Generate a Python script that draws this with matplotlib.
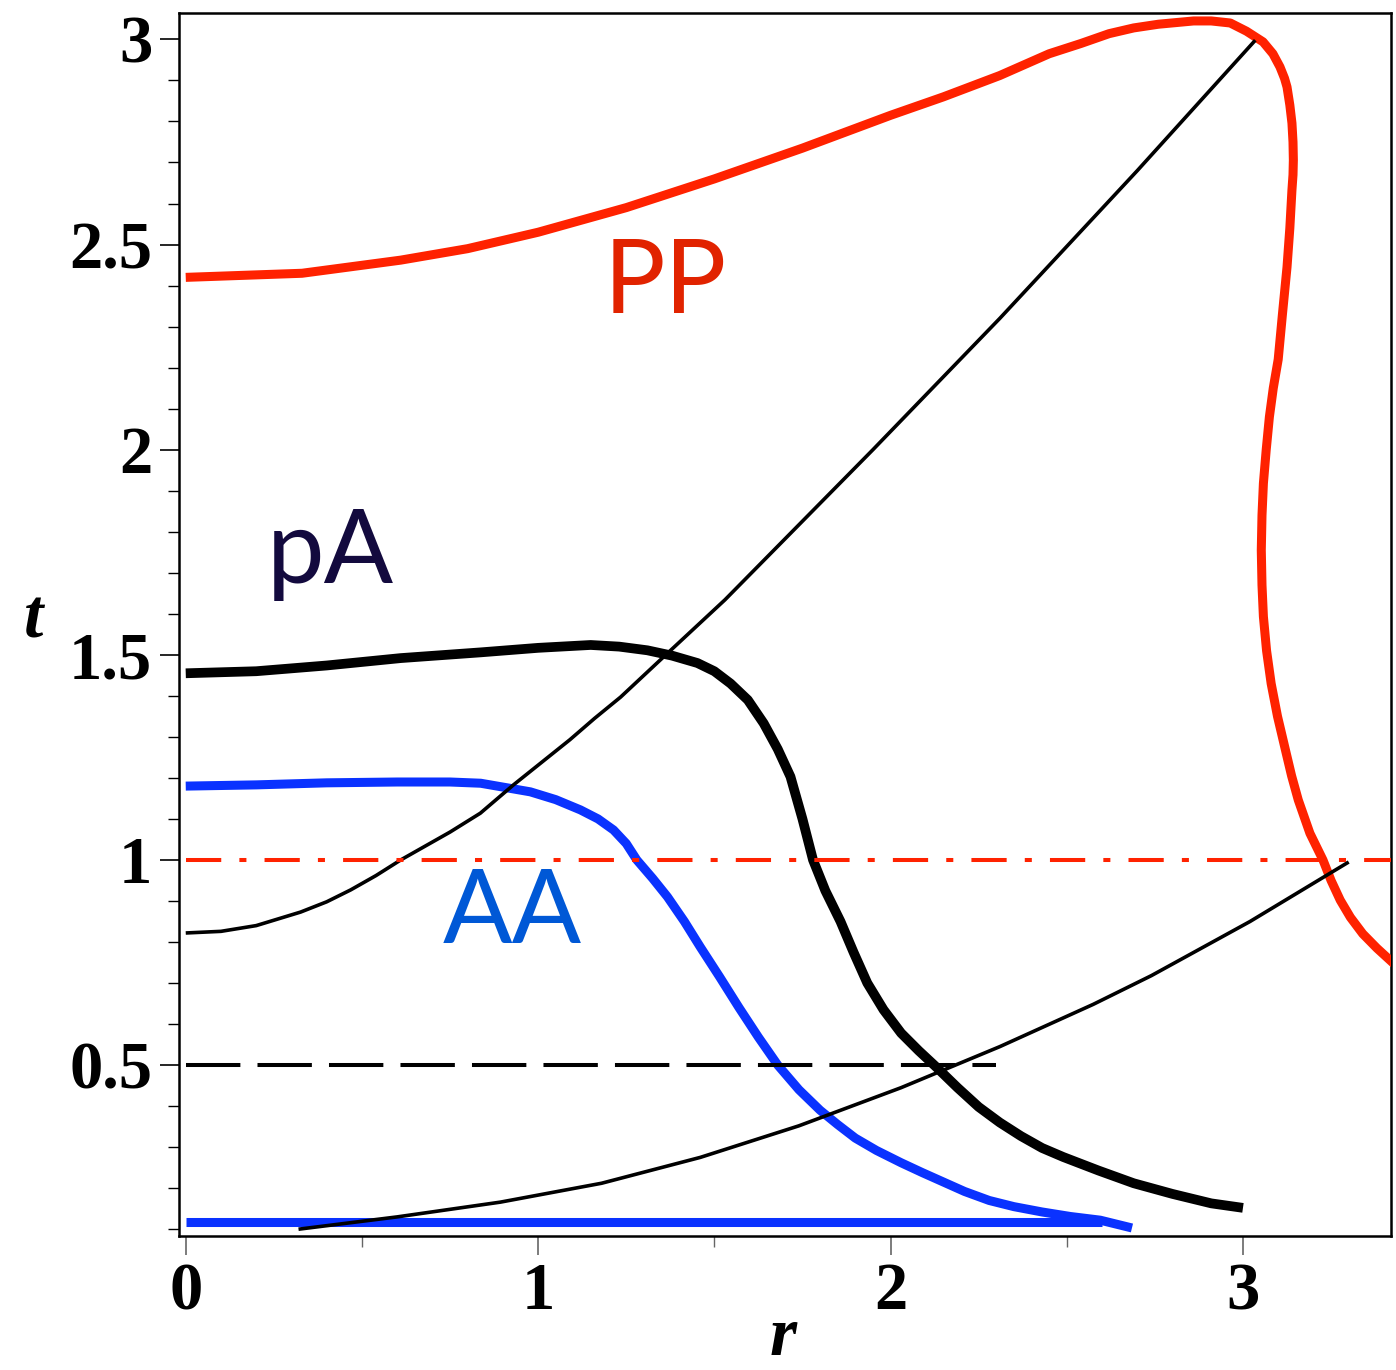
import matplotlib
matplotlib.use("Agg")
import matplotlib.pyplot as plt
import numpy as np

# PP curve (red, thick)
pp_r = [0, 0.33, 0.61, 0.8, 1.0, 1.25, 1.5, 1.75, 2.0, 2.15, 2.31, 2.45, 2.54, 2.62, 2.69,
        2.76, 2.86, 2.91, 2.964, 3.01, 3.057, 3.085, 3.105, 3.118, 3.125, 3.133, 3.139,
        3.142, 3.143, 3.142, 3.139, 3.133, 3.125, 3.112, 3.1, 3.086, 3.075, 3.066, 3.058,
        3.054, 3.052, 3.054, 3.058, 3.067, 3.08, 3.098, 3.12, 3.138, 3.157, 3.19, 3.227,
        3.25, 3.276, 3.305, 3.34, 3.38, 3.45]
pp_t = [2.42, 2.43, 2.462, 2.49, 2.53, 2.59, 2.66, 2.735, 2.815, 2.86, 2.912, 2.965, 2.99,
        3.014, 3.028, 3.037, 3.045, 3.045, 3.04, 3.02, 2.994, 2.965, 2.933, 2.905, 2.884,
        2.84, 2.796, 2.75, 2.706, 2.67, 2.633, 2.54, 2.445, 2.33, 2.22, 2.15, 2.08, 2.0,
        1.918, 1.84, 1.755, 1.67, 1.593, 1.51, 1.43, 1.35, 1.27, 1.205, 1.146, 1.065, 1.0,
        0.95, 0.902, 0.86, 0.82, 0.785, 0.73]

# pA curve (black, thick)
pa_r = [0, 0.2, 0.4, 0.61, 0.837, 1.0, 1.149, 1.23, 1.31, 1.38, 1.452, 1.5, 1.546, 1.595,
        1.64, 1.68, 1.716, 1.75, 1.78, 1.815, 1.858, 1.895, 1.934, 1.98, 2.03, 2.08, 2.13,
        2.19, 2.25, 2.31, 2.37, 2.43, 2.49, 2.59, 2.69, 2.8, 2.91, 3.0]
pa_t = [1.455, 1.46, 1.474, 1.492, 1.506, 1.517, 1.524, 1.52, 1.511, 1.498, 1.48, 1.46,
        1.43, 1.39, 1.333, 1.27, 1.203, 1.10, 1.0, 0.925, 0.85, 0.775, 0.70, 0.635, 0.578,
        0.535, 0.495, 0.445, 0.398, 0.36, 0.327, 0.298, 0.276, 0.243, 0.212, 0.186, 0.163,
        0.152]

# AA curve (blue, thick) and its floor
aa_r = [0, 0.2, 0.4, 0.6, 0.75, 0.837, 0.978, 1.05, 1.12, 1.17, 1.214, 1.25, 1.28, 1.325,
        1.367, 1.415, 1.46, 1.515, 1.57, 1.625, 1.68, 1.74, 1.8, 1.85, 1.9, 1.96, 2.03,
        2.09, 2.15, 2.21, 2.28, 2.35, 2.43, 2.51, 2.595, 2.685]
aa_t = [1.18, 1.183, 1.188, 1.19, 1.19, 1.187, 1.166, 1.147, 1.122, 1.10, 1.073, 1.04, 1.0,
        0.955, 0.91, 0.85, 0.788, 0.715, 0.64, 0.568, 0.5, 0.44, 0.39, 0.355, 0.322, 0.292,
        0.262, 0.238, 0.215, 0.192, 0.17, 0.155, 0.142, 0.131, 0.122, 0.103]
aa_floor_r = [0, 2.6]
aa_floor_t = [0.1175, 0.1175]

# thin black curves
upper_r = [0, 0.1, 0.2, 0.326, 0.4, 0.468, 0.54, 0.61, 0.75, 0.836, 0.93, 1.01, 1.09,
           1.16, 1.234, 1.356, 1.53, 1.95, 2.31, 2.7, 3.035]
upper_t = [0.822, 0.826, 0.84, 0.873, 0.898, 0.927, 0.962, 1.0, 1.068, 1.114, 1.183, 1.238,
           1.293, 1.345, 1.397, 1.495, 1.634, 2.0, 2.32, 2.68, 2.998]
lower_r = [0.32, 0.6, 0.893, 1.18, 1.46, 1.74, 2.03, 2.31, 2.575, 2.74, 3.02, 3.30]
lower_t = [0.10, 0.13, 0.166, 0.212, 0.275, 0.352, 0.445, 0.545, 0.648, 0.718, 0.85, 0.995]

# reference levels
red_level = 1.0
black_level = 0.5
black_level_end = 2.3

plt.rcParams['font.family'] = 'Liberation Serif'
plt.rcParams['font.weight'] = 'bold'

fig = plt.figure(figsize=(13.96, 13.70), dpi=100)
ax = fig.add_axes([0.128, 0.0978, 0.8684, 0.8929])

lw_thick = 6.5
lw_thin = 2.6

ax.plot(aa_floor_r, aa_floor_t, color='#0a32ff', lw=lw_thick, solid_capstyle='butt', zorder=2)
ax.plot(aa_r, aa_t, color='#0a32ff', lw=lw_thick, solid_capstyle='butt', zorder=2)
ax.plot(pa_r, pa_t, color='black', lw=7, solid_capstyle='butt', zorder=3)
ax.plot(pp_r, pp_t, color='#ff2200', lw=lw_thick, solid_capstyle='butt', zorder=3)
ax.plot(upper_r, upper_t, color='black', lw=lw_thin, solid_capstyle='butt', zorder=4)
ax.plot(lower_r, lower_t, color='black', lw=lw_thin, solid_capstyle='butt', zorder=4)

ax.plot([0, 3.42], [red_level, red_level], color='#ff2200', lw=2.9,
        linestyle=(0, (8.75, 4.5, 1.75, 4.5)), zorder=5)
ax.plot([0, black_level_end], [black_level, black_level], color='black', lw=2.9,
        linestyle=(0, (13.5, 4.25)), zorder=5)

ax.text(1.361, 2.333, 'PP', color='#e12300', fontsize=74, family='Lato',
        weight='normal', ha='center', va='baseline')
ax.text(0.41, 1.675, 'pA', color='#130a3e', fontsize=74, family='Lato',
        weight='normal', ha='center', va='baseline')
ax.text(0.927, 0.797, 'AA', color='#0058d6', fontsize=74, family='Lato',
        weight='normal', ha='center', va='baseline')

ax.set_xlim(-0.02, 3.42)
ax.set_ylim(0.0834, 3.065)
ax.set_xticks([0, 1, 2, 3])
ax.set_xticklabels(['0', '1', '2', '3'])
ax.set_xticks([0.5, 1.5, 2.5], minor=True)
ax.set_yticks([0.5, 1, 1.5, 2, 2.5, 3])
ax.set_yticklabels(['0.5', '1', '1.5', '2', '2.5', '3'])
ax.set_yticks(np.arange(0.1, 3.01, 0.1), minor=True)
ax.tick_params(which='major', direction='out', length=14, width=1.2, labelsize=48, pad=5)
ax.tick_params(which='minor', direction='out', length=8, width=1.0)
ax.tick_params(axis='x', which='both', color='#666666')

for sp in ax.spines.values():
    sp.set_linewidth(1.8)

fig.text(34 / 1396, 1 - 621 / 1370, 't', fontsize=50, style='italic', weight='bold',
         ha='center', va='center')
fig.text(783 / 1396, 1 - 1338 / 1370, 'r', fontsize=50, style='italic', weight='bold',
         ha='center', va='center')

fig.savefig('out.png', dpi=100)
